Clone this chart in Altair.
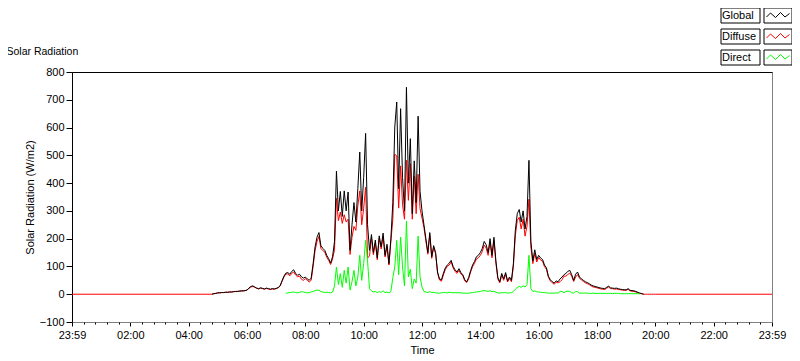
import altair as alt
import pandas as pd

FONT = "Liberation Sans"

# time base: day readings every 4 minutes starting 04:48
DAY_START_HOUR = 4.8
STEP_MINUTES = 4

global_vals = [
    0, 2, 3, 5,
    5, 6, 6, 7, 7, 8, 8, 9, 10, 10, 11, 12, 12, 13,
    15, 22, 28, 30, 26, 22, 20, 23, 21, 19, 22, 20, 18, 20, 19, 21,
    24, 30, 48, 65, 76, 78, 72, 82, 88, 75, 68, 72, 63, 58, 62, 55, 50, 58, 110, 170, 205, 222, 175, 165, 158, 140, 128, 112, 135, 190,
    443, 300, 370, 280, 372, 300, 368, 158, 250, 330, 260, 380, 512, 300, 420, 579, 250, 158, 215, 150, 195, 130, 210, 170, 220, 140, 180, 110, 200,
    330, 602, 692, 380, 668, 420, 300, 745, 400, 560, 290, 480, 330, 641, 370, 300, 250, 200, 150, 222, 135, 175, 150, 80, 55, 52, 75, 95, 105, 112,
    122, 100, 88, 80, 92, 78, 70, 52, 45, 60, 85, 105, 118, 135, 140, 150, 165, 190, 178, 150, 200, 140, 205, 120, 60, 45, 75, 55, 78, 48, 62,
    50, 110, 230, 290, 305, 260, 300, 235, 280, 482, 190, 120, 160, 125, 140, 130, 125, 105, 95, 65, 52, 45, 40, 48, 45, 55, 62, 70, 75, 82, 86, 70, 50, 72, 80, 62, 55, 50, 45, 42, 38, 33, 30, 28, 26,
    24, 22, 21, 20, 25, 29, 23, 22, 21, 22, 20, 18, 17, 16, 16, 20, 14, 13, 12, 10, 7, 4, 2, 0,
]

diffuse_vals = [
    0, 2, 3, 5,
    5, 6, 6, 7, 7, 8, 8, 9, 10, 10, 11, 12, 12, 13,
    15, 21, 26, 28, 25, 21, 19, 22, 20, 18, 21, 19, 17, 19, 18, 20,
    23, 29, 46, 62,
    73, 73, 66, 75, 80, 69, 63, 65, 54, 50, 56, 50, 44, 50, 100, 157, 190, 208, 165, 157, 152, 133, 122, 107, 127, 160,
    345, 265, 296, 255, 286, 260, 270, 143, 205, 244, 230, 318, 372, 250, 310, 385, 130, 138, 203, 142, 185, 124, 201, 163, 208, 134, 172, 105, 190,
    270, 504, 498, 310, 462, 322, 270, 482, 338, 470, 270, 425, 290, 432, 308, 274, 240, 192, 144, 213, 129, 168, 145, 76, 51, 47, 69, 89, 100, 105,
    116, 95, 82, 75, 86, 73, 66, 48, 42, 56, 80, 99, 111, 127, 131, 140, 153, 177, 166, 140, 187, 131, 194, 113, 55, 41, 69, 50, 72, 44, 57,
    45, 100, 212, 266, 277, 235, 270, 209, 245, 342, 170, 110, 148, 116, 132, 123, 119, 99, 90, 61, 48, 41, 36, 43, 41, 45, 52, 65, 65, 71, 76, 65, 46, 62, 71, 58, 51, 46, 41, 38, 35, 30, 26, 25, 23,
    21, 19, 18, 17, 22, 26, 20, 20, 18, 19, 17, 16, 15, 14, 14, 18, 12, 11, 10, 8, 5, 3, 2, 0,
    0, 0, 0, 0, 0, 0,
]

DIRECT_START_INDEX = 38  # 07:20
direct_vals = [
    3, 5, 6, 7, 8, 6, 5, 7, 9, 8, 6, 5, 6, 8, 10, 13, 15, 14, 10, 8, 6, 7, 6, 5, 8, 30,
    98, 35, 74, 25, 86, 40, 98, 15, 45, 86, 30, 62, 140, 50, 110, 194, 120, 20, 12, 8, 10, 6, 9, 7, 12, 6, 8, 5, 10,
    60, 98, 194, 70, 206, 98, 30, 263, 62, 90, 20, 55, 40, 209, 62, 26, 10, 8, 6, 9, 6, 7, 5, 4, 4, 5, 6, 6, 5, 7,
    6, 5, 6, 5, 6, 5, 4, 4, 3, 4, 5, 6, 7, 8, 9, 10, 12, 13, 12, 10, 13, 9, 11, 7, 5, 4, 6, 5, 6, 4, 5,
    5, 10, 18, 24, 28, 25, 30, 26, 35, 140, 20, 10, 12, 9, 8, 7, 6, 6, 5, 4, 4, 4, 4, 5, 4, 10, 10, 5, 10, 11, 10, 5, 4, 10, 9, 4, 4, 4, 4, 4, 3, 3, 4, 3, 3,
    3, 3, 3, 3, 3, 3, 3, 2, 3, 3, 3, 2, 2, 2, 2, 2, 2, 2, 2, 2, 2, 1,
]

# diffuse (night) readings at the ends of the day
night_hours = [0.0, 24.0]
night_diffuse = [0, 0]

series_names = ["Global", "Diffuse", "Direct"]
series_colors = ["#000000", "#ff0000", "#00ff00"]

x_tick_hours = [0, 2, 4, 6, 8, 10, 12, 14, 16, 18, 20, 22, 24]
minor_tick_hours = [round(k * 0.4, 2) for k in range(61) if k % 5 != 0]
y_ticks = [-100, 0, 100, 200, 300, 400, 500, 600, 700, 800]


def day_hour(i):
    return DAY_START_HOUR + i * STEP_MINUTES / 60.0


rows = []
for i, v in enumerate(global_vals):
    rows.append({"hour": day_hour(i), "value": v, "series": "Global"})
rows.append({"hour": night_hours[0], "value": night_diffuse[0], "series": "Diffuse"})
for i, v in enumerate(diffuse_vals):
    rows.append({"hour": day_hour(i), "value": v, "series": "Diffuse"})
rows.append({"hour": night_hours[1], "value": night_diffuse[1], "series": "Diffuse"})
for i, v in enumerate(direct_vals):
    rows.append({"hour": day_hour(DIRECT_START_INDEX + i), "value": v, "series": "Direct"})
df = pd.DataFrame(rows)

x_scale = alt.Scale(domain=[0, 24], nice=False, zero=False)
y_scale = alt.Scale(domain=[-100, 800], nice=False, zero=False)
color_scale = alt.Scale(domain=series_names, range=series_colors)

# legend glyphs (unit = 1px with symbolSize 4); both glyphs share the same bounds
BOUNDS = "M4.5,-7.5L4.5,-7.5M75.5,7.5L75.5,7.5"
ZIGZAG = BOUNDS + "M50,1.5L54,-2.5L59,2L64,-3L68.5,1.5L73,-2"
BOXES = "M4.5,-7.5H43.5V7.5H4.5Z M47.5,-7.5H75.5V7.5H47.5Z"
box_keys = [n + " " for n in series_names]

LEG_X = 639
LEG_Y = -62
ROW_PAD = 2

legend_lines = alt.Legend(
    title=None, orient="none", legendX=LEG_X, legendY=LEG_Y,
    symbolType=ZIGZAG, symbolSize=4, symbolStrokeWidth=1,
    labelFont=FONT, labelFontSize=11, labelColor="black",
    labelOffset=0, rowPadding=ROW_PAD, padding=0,
)
legend_boxes = alt.Legend(
    title=None, orient="none", legendX=LEG_X, legendY=LEG_Y,
    symbolSize=4, symbolStrokeWidth=1, symbolStrokeColor="black",
    symbolFillColor="transparent", symbolOpacity=1,
    labelFont=FONT, labelFontSize=11, labelOpacity=0,
    labelOffset=0, rowPadding=ROW_PAD, padding=0,
)

main_x_axis = alt.Axis(
    orient="bottom", values=x_tick_hours,
    labelExpr="datum.value == 0 || datum.value == 24 ? '23:59' : (datum.value < 10 ? '0' : '') + datum.value + ':00'",
    tickSize=4, tickColor="black", domainColor="#808080",
    labelFont=FONT, labelFontSize=11, labelColor="black", labelPadding=3,
    labelOverlap=False, labelFlush=False,
    title="Time", titleFont=FONT, titleFontSize=11, titleFontWeight="normal",
    titleColor="black", titlePadding=4, grid=False,
)
minor_x_axis = alt.Axis(
    orient="bottom", values=minor_tick_hours, tickSize=2, tickColor="black",
    labels=False, domain=False, title=None, grid=False,
)
top_x_axis = alt.Axis(
    orient="top", ticks=False, labels=False, domainColor="black", grid=False,
    title="Solar Radiation", titleX=-66, titleY=-18, titleAlign="left",
    titleBaseline="alphabetic", titleFont=FONT, titleFontSize=10.5,
    titleFontWeight="normal", titleColor="black",
)
y_axis = alt.Axis(
    values=y_ticks, tickSize=6, tickColor="black", domainColor="black",
    labelFont=FONT, labelFontSize=11, labelColor="black", labelPadding=2,
    title="Solar Radiation (W/m2)", titleFont=FONT, titleFontSize=11,
    titleFontWeight="normal", titleColor="black", titlePadding=4, grid=False,
)


def line_layer(name, first=False):
    return alt.Chart(df).transform_filter(alt.datum.series == name).mark_line(
        strokeWidth=1, interpolate="linear"
    ).encode(
        x=alt.X("hour:Q", scale=x_scale, axis=main_x_axis if first else None),
        y=alt.Y("value:Q", scale=y_scale, axis=y_axis if first else None),
        color=alt.Color("series:N", scale=color_scale, legend=legend_lines),
    )


boxes_layer = alt.Chart(df).transform_calculate(box="datum.series + ' '").mark_point(
    opacity=0, color="black", filled=False
).encode(
    x=alt.X("hour:Q", scale=x_scale, axis=minor_x_axis),
    y=alt.Y("value:Q", scale=y_scale, axis=None),
    shape=alt.Shape("box:N", scale=alt.Scale(domain=box_keys, range=[BOXES] * 3),
                    legend=legend_boxes),
)

top_layer = alt.Chart(df).mark_point(opacity=0).encode(
    x=alt.X("hour:Q", scale=x_scale, axis=top_x_axis),
    y=alt.Y("value:Q", scale=y_scale, axis=None),
)

chart = alt.layer(
    line_layer("Diffuse", first=True),
    line_layer("Global"),
    line_layer("Direct"),
    boxes_layer,
    top_layer,
).resolve_axis(x="independent", y="independent").properties(
    width=700, height=250,
    autosize=alt.AutoSizeParams(type="none"),
    padding={"left": 64, "top": 64, "right": 20, "bottom": 40},
    background="white",
).configure_view(stroke="#808080", strokeWidth=1)

chart.save("out.html", embed_options={"renderer": "svg", "actions": False})
